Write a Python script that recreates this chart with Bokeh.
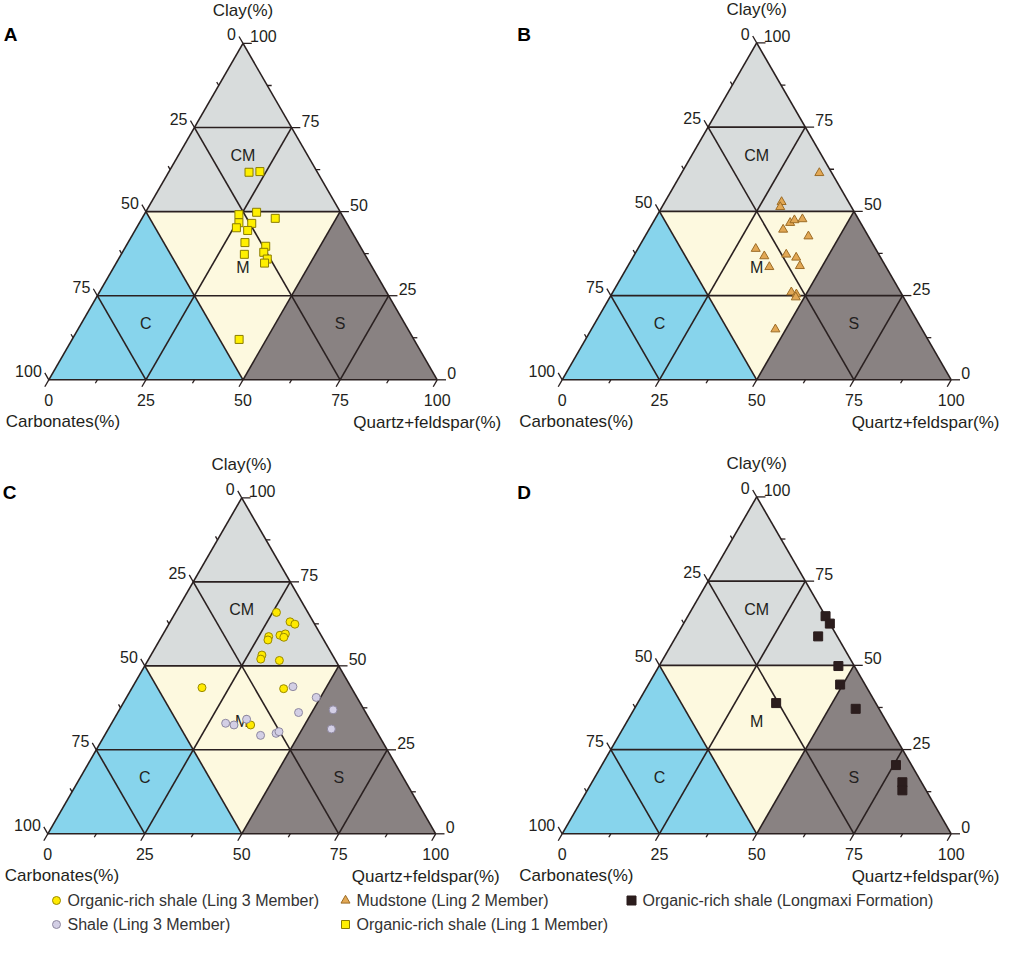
import numpy as np
from bokeh.plotting import figure
from bokeh.models import Range1d
from bokeh.embed import file_html
from bokeh.resources import INLINE
from bokeh.core.properties import value

# ---------------- data (percent) ----------------
# Panel A: Organic-rich shale (Ling 1 Member)
a_clay = [61.7, 61.9, 49.1, 49.8, 46.7, 48.0, 45.2, 46.5, 44.4, 40.8, 39.7, 37.3, 37.9, 35.9, 34.7, 12.0]
a_qf   = [20.7, 23.4, 24.4, 28.6, 25.6, 34.3, 25.7, 29.0, 29.0, 30.1, 36.0, 31.7, 36.4, 38.3, 38.2, 43.0]
a_carb = [17.6, 14.7, 26.5, 21.6, 27.7, 17.7, 29.1, 24.5, 26.6, 29.1, 24.3, 31.0, 25.7, 25.8, 27.1, 45.0]

# Panel B: Mudstone (Ling 2 Member)
b_clay = [61.4, 52.8, 51.3, 46.6, 47.4, 47.7, 44.6, 42.6, 38.9, 36.7, 37.2, 36.3, 33.5, 33.8, 26.0, 25.4, 24.5, 15.0]
b_qf   = [35.4, 30.0, 30.4, 35.3, 36.0, 37.9, 34.5, 42.0, 30.3, 33.6, 39.0, 42.0, 36.5, 44.2, 45.9, 47.5, 47.8, 47.3]
b_carb = [3.2, 17.2, 18.3, 18.1, 16.6, 14.4, 20.9, 15.4, 30.8, 29.7, 23.8, 21.7, 30.0, 22.0, 28.1, 27.1, 27.7, 37.7]

# Panel C: Organic-rich shale (Ling 3 Member)
c1_clay = [65.9, 63.1, 62.4, 58.7, 57.7, 59.1, 59.5, 58.5, 53.2, 52.0, 51.6, 43.5, 43.2, 32.4]
c1_qf   = [26.0, 30.9, 32.5, 27.6, 27.9, 30.3, 31.5, 31.6, 28.6, 28.9, 33.9, 18.0, 39.2, 36.1]
c1_carb = [8.1, 6.0, 5.1, 13.7, 14.4, 10.6, 9.0, 9.9, 18.2, 19.1, 14.5, 38.5, 17.6, 31.5]
# Panel C: Shale (Ling 3 Member)
c2_clay = [43.8, 40.6, 36.1, 36.9, 31.2, 32.9, 32.4, 34.1, 29.3, 29.9, 30.4]
c2_qf   = [41.3, 48.9, 46.6, 55.1, 57.5, 29.4, 31.8, 34.2, 40.2, 43.9, 44.4]
c2_carb = [14.9, 10.5, 17.3, 8.0, 11.3, 37.7, 35.8, 31.7, 30.5, 26.2, 25.2]

# Panel D: Organic-rich shale (Longmaxi Formation)
d_clay = [64.6, 62.4, 58.6, 49.8, 44.3, 37.1, 20.4, 15.3, 12.9, 38.8]
d_qf   = [35.4, 37.6, 36.5, 46.1, 49.3, 56.9, 75.6, 79.8, 81.0, 35.6]
d_carb = [0.0, 0.0, 4.9, 4.1, 6.4, 6.0, 4.0, 4.9, 6.1, 25.6]

tick_vals = [0, 25, 50, 75, 100]
panel_letters = ["A", "B", "C", "D"]
region_names = ["CM", "M", "C", "S"]
legend_labels = ["Organic-rich shale (Ling 3 Member)", "Shale (Ling 3 Member)",
                 "Mudstone (Ling 2 Member)", "Organic-rich shale (Ling 1 Member)",
                 "Organic-rich shale (Longmaxi Formation)"]

# ---------------- layout ----------------
W, H = 1001, 943
p = figure(width=W, height=H, x_range=Range1d(0, W), y_range=Range1d(-H, 0),
           output_backend="svg", toolbar_location=None, min_border=0,
           x_axis_type=None, y_axis_type=None)
p.grid.visible = False
p.outline_line_color = None
p.background_fill_color = "white"
p.border_fill_color = "white"

S3 = np.sqrt(3) / 2
FONT = value("Liberation Sans")
LINE = "#2a2020"

panels = [
    dict(x0=48.3, yb=379.3, L=388.4, ly=33.5),
    dict(x0=561.7, yb=379.3, L=389.0, ly=33.5),
    dict(x0=47.3, yb=833.3, L=387.9, ly=492.0),
    dict(x0=561.7, yb=833.3, L=389.0, ly=492.0),
]


def tern(P, clay, qf):
    clay = np.asarray(clay, dtype=float)
    qf = np.asarray(qf, dtype=float)
    x = P["x0"] + P["L"] * (qf + clay / 2) / 100
    y = -(P["yb"] - P["L"] * S3 * clay / 100)
    return x, y


def txt(x, y, t, size=16, align="center", bold=False, color="#231f20", baseline="middle"):
    p.text(x=list(np.atleast_1d(x)), y=list(np.atleast_1d(y)), text=list(np.atleast_1d(t)),
           text_font=FONT, text_font_size=f"{size}px", text_align=align,
           text_baseline=baseline, text_color=color,
           text_font_style="bold" if bold else "normal")


COL_CLAY = "#d8dcdc"
COL_MIX = "#fdf9df"
COL_CARB = "#87d4ec"
COL_QF = "#898282"

for k, P in enumerate(panels):
    # sub-triangles
    xs, ys, cols = [], [], []
    for i in range(4):
        c0, c1 = 25 * i, 25 * (i + 1)
        tris = []
        for j in range(4 - i):
            tris.append([(c0, 25 * j), (c0, 25 * (j + 1)), (c1, 25 * j)])
        for j in range(3 - i):
            tris.append([(c0, 25 * (j + 1)), (c1, 25 * j), (c1, 25 * (j + 1))])
        for t in tris:
            cl = [v[0] for v in t]
            q = [v[1] for v in t]
            cc = np.mean(cl); cq = np.mean(q); cb = 100 - cc - cq
            if cc > 50:
                col = COL_CLAY
            elif cb > 50:
                col = COL_CARB
            elif cq > 50:
                col = COL_QF
            else:
                col = COL_MIX
            X, Y = tern(P, cl, q)
            xs.append(list(X)); ys.append(list(Y)); cols.append(col)
    p.patches(xs, ys, fill_color=cols, line_color=None)

    # grid lines
    lx, ly = [], []
    segs = [((0, 0), (0, 100)), ((0, 100), (100, 0)), ((100, 0), (0, 0))]
    for v in (25, 50, 75):
        segs.append(((v, 0), (v, 100 - v)))          # clay const
        segs.append(((0, v), (100 - v, v)))          # qf const
        segs.append(((0, 100 - v), (100 - v, 0)))    # carb const
    for (a, b) in segs:
        X, Y = tern(P, [a[0], b[0]], [a[1], b[1]])
        lx.append(list(X)); ly.append(list(Y))
    p.multi_line(lx, ly, line_color=LINE, line_width=1.6)

    # ticks
    tx, ty = [], []
    for v in np.arange(0, 100.1, 12.5):
        ln = 8 if v % 25 == 0 else 4
        X, Y = tern(P, [100 - v], [0])
        tx.append([X[0], X[0] - 0.5 * ln]); ty.append([Y[0], Y[0] + S3 * ln])
        X, Y = tern(P, [v], [100 - v])
        tx.append([X[0], X[0] + ln * 1.1]); ty.append([Y[0], Y[0]])
        X, Y = tern(P, [0], [v])
        tx.append([X[0], X[0] - 0.5 * ln]); ty.append([Y[0], Y[0] - S3 * ln])
    p.multi_line(tx, ty, line_color=LINE, line_width=1.3)

    # tick labels
    for v in tick_vals:
        X, Y = tern(P, [100 - v], [0])
        txt(X[0] - 7, Y[0] + 9, str(v), align="right")
        X, Y = tern(P, [v], [100 - v])
        txt(X[0] + 7 if v == 100 else X[0] + 10, Y[0] + 7, str(v), align="left")
        X, Y = tern(P, [0], [v])
        txt(X[0], Y[0] - 20, str(v), align="center")

    # axis titles
    X, Y = tern(P, [100], [0])
    txt(X[0], Y[0] + 33, "Clay(%)", size=17)
    X, Y = tern(P, [0], [0])
    txt(X[0] - 43, Y[0] - 42, "Carbonates(%)", size=17, align="left")
    X, Y = tern(P, [0], [100])
    txt(min(X[0] + 64, W - 2), Y[0] - 43, "Quartz+feldspar(%)", size=17, align="right")

    # panel letter
    txt(P["x0"] - 45, -P["ly"], panel_letters[k], size=19, align="left", bold=True, color="#000000")

    # region labels at centroids of sub-triangles (CM, M, C, S)
    cen_clay = [200 / 3, 100 / 3, 50 / 3, 50 / 3]
    cen_qf = [50 / 3, 100 / 3, 50 / 3, 200 / 3]
    X, Y = tern(P, cen_clay, cen_qf)
    txt(list(X), list(Y), region_names, size=16)

# ---------------- points ----------------
X, Y = tern(panels[0], a_clay, a_qf)
p.scatter(X, Y, marker="square", size=8, fill_color="#fff000", line_color="#8a7d00", line_width=1)

X, Y = tern(panels[1], b_clay, b_qf)
p.scatter(X, Y, marker="triangle", size=9, fill_color="#e2a855", line_color="#9c6c26", line_width=1)

X, Y = tern(panels[2], c1_clay, c1_qf)
p.scatter(X, Y, marker="circle", size=8, fill_color="#ffea00", line_color="#9a8a00", line_width=1)
X, Y = tern(panels[2], c2_clay, c2_qf)
p.scatter(X, Y, marker="circle", size=8, fill_color="#d3cfe5", line_color="#8e88a0", line_width=1)

X, Y = tern(panels[3], d_clay, d_qf)
p.scatter(X, Y, marker="square", size=9, fill_color="#2b1d1d", line_color="#2b1d1d", line_width=1)

# ---------------- legend ----------------
leg_x = [56, 56, 345, 345, 631]
leg_y = [900, 924, 900, 924, 900]
leg_marker = ["circle", "circle", "triangle", "square", "square"]
leg_fill = ["#ffea00", "#d3cfe5", "#e2a855", "#fff000", "#2b1d1d"]
leg_line = ["#9a8a00", "#8e88a0", "#9c6c26", "#8a7d00", "#2b1d1d"]
leg_size = [8, 8, 9, 8, 9]
for i in range(5):
    p.scatter([leg_x[i]], [-leg_y[i]], marker=leg_marker[i], size=leg_size[i],
              fill_color=leg_fill[i], line_color=leg_line[i], line_width=1)
    txt(leg_x[i] + 11, -leg_y[i], legend_labels[i], size=16, align="left", color="#333333")

open("out.html", "w").write(file_html(p, INLINE))
